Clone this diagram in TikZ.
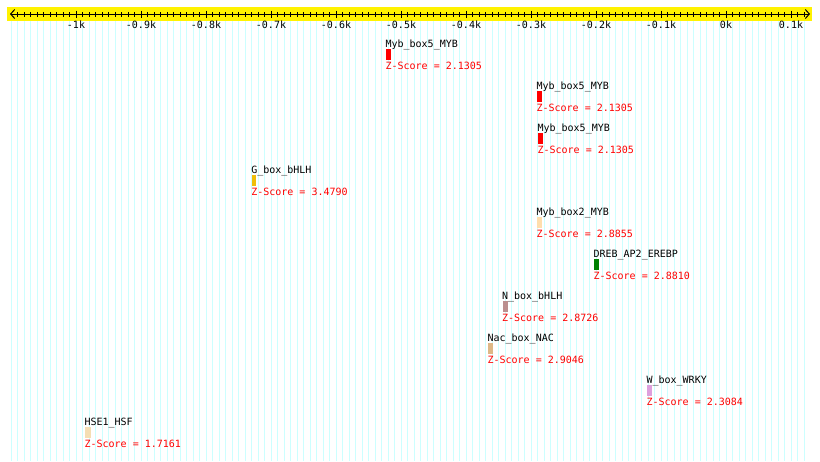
\documentclass[tikz,border=0pt]{standalone}
\usepackage{fontspec}
\setmonofont{DejaVu Sans Mono}
\usetikzlibrary{arrows.meta}
\definecolor{gridc}{RGB}{204,255,255}
\definecolor{gbox}{RGB}{240,190,10}
\definecolor{mybtwo}{RGB}{255,222,173}
\definecolor{dreb}{RGB}{0,128,0}
\definecolor{nbox}{RGB}{188,143,143}
\definecolor{nac}{RGB}{222,184,135}
\definecolor{wbox}{RGB}{221,160,221}
\definecolor{hse}{RGB}{245,222,179}
\newcommand{\siterow}[7]{%
  \node[lbl] (name#1) at (#2-0.6, 47+42*#3) {#4};
  \node[site=#5, minimum width=#7pt] (box#1) at (#2, 49+42*#3) {};
  \node[score] (score#1) at (#2-0.6, 69+42*#3) {Z-Score = #6};
}
\begin{document}
\begin{tikzpicture}[x=1pt,y=-1pt,
  txt/.style={font=\ttfamily\fontsize{10}{10}\selectfont, inner sep=0pt},
  lbl/.style={txt, anchor=base west, text=black},
  score/.style={txt, anchor=base west, text=red},
  axlbl/.style={txt, anchor=base, text=black},
  site/.style={fill=#1, draw=none, inner sep=0pt, minimum height=10.3pt, anchor=north west},
  gridline/.style={draw=gridc, line width=1pt},
  axisline/.style={draw=black, line width=1pt},
  tick/.style={draw=black, line width=1pt}]
\fill[white] (0,0) rectangle (820,461);
\useasboundingbox (0,0) rectangle (820,461);
% grid
\foreach \n in {-110,...,12} {
  \draw[gridline] ({726+6.5*\n},21) -- ({726+6.5*\n},461);
}
% ruler band
\fill[yellow] (7,7) rectangle (812,21);
\coordinate (axL) at (10,14);
\coordinate (axR) at (810,14);
\draw[axisline, {Straight Barb[length=4pt,width=9pt,line width=1pt]}-{Straight Barb[length=4pt,width=9pt,line width=1pt]}] (axL) -- (axR);
\foreach \n in {-109,...,12} {
  \draw[tick] ({726+6.5*\n},12) -- ({726+6.5*\n},16.5);
}
\foreach \n/\t in {-100/-1k,-90/-0.9k,-80/-0.8k,-70/-0.7k,-60/-0.6k,-50/-0.5k,-40/-0.4k,-30/-0.3k,-20/-0.2k,-10/-0.1k,0/0k,10/0.1k} {
  \draw[tick] ({726+6.5*\n},10.5) -- ({726+6.5*\n},18);
  \node[axlbl] (ax\n) at ({726+6.5*\n},28.5) {\t};
}
% sites
\siterow{a}{386}{0}{Myb\_box5\_MYB}{red}{2.1305}{5.2}
\siterow{b}{537}{1}{Myb\_box5\_MYB}{red}{2.1305}{5.2}
\siterow{c}{538}{2}{Myb\_box5\_MYB}{red}{2.1305}{5.2}
\siterow{d}{251.7}{3}{G\_box\_bHLH}{gbox}{3.4790}{4}
\siterow{e}{537}{4}{Myb\_box2\_MYB}{mybtwo}{2.8855}{5.2}
\siterow{f}{594}{5}{DREB\_AP2\_EREBP}{dreb}{2.8810}{5.2}
\siterow{g}{502.5}{6}{N\_box\_bHLH}{nbox}{2.8726}{5.2}
\siterow{h}{488}{7}{Nac\_box\_NAC}{nac}{2.9046}{5.2}
\siterow{i}{647}{8}{W\_box\_WRKY}{wbox}{2.3084}{5.2}
\siterow{j}{85}{9}{HSE1\_HSF}{hse}{1.7161}{5.5}
\end{tikzpicture}
\end{document}
